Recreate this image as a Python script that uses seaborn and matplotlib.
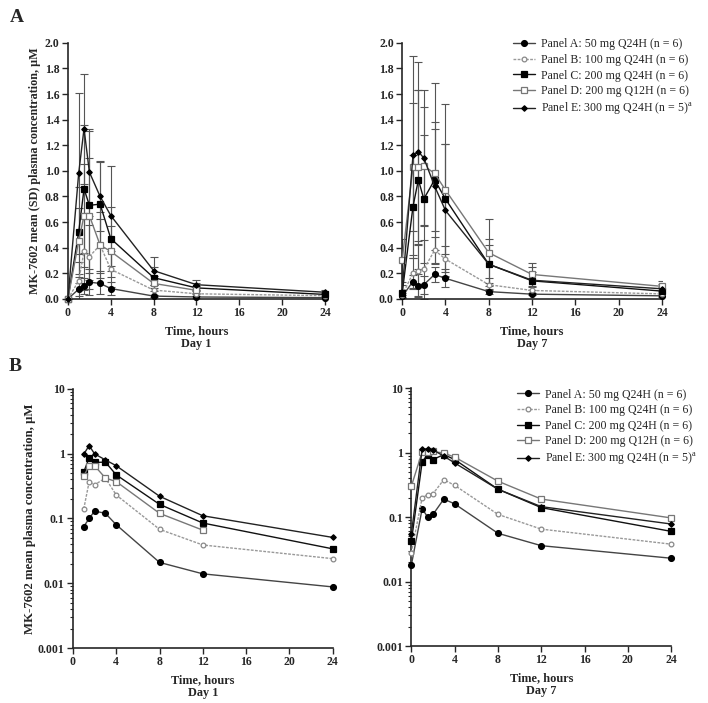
import numpy as np
import pandas as pd
import matplotlib
matplotlib.use("Agg")
import matplotlib.pyplot as plt
import matplotlib.ticker as mticker
import seaborn as sns

# ====================== Data ======================
time_h = [0, 1, 1.5, 2, 3, 4, 8, 12, 24]

# Day 1 means (uM)
d1_a = [0.0, 0.075, 0.10, 0.13, 0.12, 0.08, 0.021, 0.014, 0.0088]
d1_b = [0.0, 0.14, 0.37, 0.33, 0.42, 0.23, 0.068, 0.039, 0.024]
d1_c = [0.0, 0.52, 0.86, 0.73, 0.74, 0.47, 0.165, 0.085, 0.034]
d1_d = [0.0, 0.45, 0.65, 0.65, 0.42, 0.37, 0.12, 0.066, np.nan]
d1_e = [0.0, 0.98, 1.33, 0.99, 0.80, 0.65, 0.22, 0.11, 0.051]
# Day 1 SD
d1_a_sd = [0.0, 0.05, 0.06, 0.10, 0.08, 0.05, 0.01, 0.006, 0.004]
d1_b_sd = [0.0, 0.15, 0.30, 0.25, 0.20, 0.14, 0.04, 0.02, 0.012]
d1_c_sd = [0.0, 0.35, 0.50, 0.58, 0.34, 0.25, 0.08, 0.04, 0.015]
d1_d_sd = [0.0, 0.26, 0.40, 0.45, 0.26, 0.20, 0.06, 0.03, np.nan]
d1_e_sd = [0.0, 0.63, 0.43, 0.34, 0.27, 0.39, 0.11, 0.04, 0.02]

# Day 7 means (uM)
d7_a = [0.018, 0.135, 0.10, 0.11, 0.19, 0.16, 0.056, 0.036, 0.023]
d7_b = [0.028, 0.20, 0.22, 0.23, 0.38, 0.31, 0.11, 0.065, 0.038]
d7_c = [0.042, 0.72, 0.93, 0.78, 0.93, 0.78, 0.27, 0.14, 0.06]
d7_d = [0.30, 1.03, 1.03, 1.04, 0.98, 0.85, 0.36, 0.19, 0.097]
d7_e = [0.055, 1.12, 1.15, 1.10, 0.88, 0.69, 0.27, 0.145, 0.078]
# Day 7 SD
d7_a_sd = [0.01, 0.05, 0.09, 0.07, 0.06, 0.07, 0.02, 0.01, 0.01]
d7_b_sd = [0.02, 0.12, 0.20, 0.23, 0.10, 0.10, 0.05, 0.03, 0.02]
d7_c_sd = [0.03, 0.40, 0.70, 0.50, 0.40, 0.43, 0.15, 0.07, 0.03]
d7_d_sd = [0.17, 0.50, 0.60, 0.46, 0.71, 0.67, 0.26, 0.09, 0.045]
d7_e_sd = [0.05, 0.78, 0.70, 0.53, 0.50, 0.52, 0.20, 0.10, 0.04]

labels = ["Panel A: 50 mg Q24H (n = 6)",
          "Panel B: 100 mg Q24H (n = 6)",
          "Panel C: 200 mg Q24H (n = 6)",
          "Panel D: 200 mg Q12H (n = 6)",
          "Panel E: 300 mg Q24H (n = 5)$^{\\mathregular{a}}$"]

day1 = [(d1_a, d1_a_sd), (d1_b, d1_b_sd), (d1_c, d1_c_sd), (d1_d, d1_d_sd), (d1_e, d1_e_sd)]
day7 = [(d7_a, d7_a_sd), (d7_b, d7_b_sd), (d7_c, d7_c_sd), (d7_d, d7_d_sd), (d7_e, d7_e_sd)]

# marker / line styles per panel group
styles = [
    dict(marker='o', ms=4.2, mfc='black', mec='black', color='#444444', ls='-'),
    dict(marker='o', ms=3.4, mfc='white', mec='#888888', color='#999999', ls=(0, (2, 1))),
    dict(marker='s', ms=4.0, mfc='black', mec='black', color='#111111', ls='-'),
    dict(marker='s', ms=4.0, mfc='white', mec='#777777', color='#777777', ls='-'),
    dict(marker='D', ms=2.8, mfc='black', mec='black', color='#222222', ls='-'),
]

# ====================== Canvas ======================
sns.set_style("ticks")
plt.rcParams["font.family"] = ["Liberation Serif", "DejaVu Serif"]
plt.rcParams["mathtext.fontset"] = "custom"
plt.rcParams["mathtext.rm"] = "Liberation Serif"

fig = plt.figure(figsize=(7.08, 7.03), dpi=100)
ax_tl = fig.add_axes([0.096, 0.575, 0.363, 0.364])
ax_tr = fig.add_axes([0.568, 0.575, 0.367, 0.364])
ax_bl = fig.add_axes([0.103, 0.078, 0.367, 0.369])
ax_br = fig.add_axes([0.581, 0.081, 0.367, 0.367])


def draw_panel(ax, data, log, show_err, legend_anchor=None):
    for (vals, sds), st, lab in zip(data, styles, labels):
        df = pd.DataFrame({"t": time_h, "v": vals, "sd": sds}).dropna()
        if log:
            df = df[df["v"] > 0]
        if show_err:
            ax.errorbar(df["t"], df["v"], yerr=df["sd"], fmt='none', ecolor='#555555',
                        elinewidth=0.8, capsize=3, capthick=0.8, zorder=2)
        sns.lineplot(x=df["t"], y=df["v"], ax=ax, color=st['color'], linestyle=st['ls'],
                     linewidth=1.0, marker=st['marker'], markersize=st['ms'],
                     markerfacecolor=st['mfc'], markeredgecolor=st['mec'],
                     markeredgewidth=0.9, label=lab, clip_on=False, zorder=3)
    sns.despine(ax=ax)
    ax.set_xlim(0, 24)
    ax.set_xticks(np.arange(0, 25, 4))
    if log:
        ax.set_yscale('log')
        ax.set_ylim(0.001, 10)
        ax.set_yticks([0.001, 0.01, 0.1, 1, 10])
        ax.yaxis.set_major_formatter(mticker.FuncFormatter(lambda v, p: f"{v:g}"))
        ax.yaxis.set_minor_locator(mticker.LogLocator(base=10, subs=np.arange(2, 10)))
        ax.yaxis.set_minor_formatter(mticker.NullFormatter())
    else:
        ax.set_ylim(0, 2.0)
        ax.set_yticks(np.arange(0, 2.01, 0.2))
        ax.yaxis.set_major_formatter(mticker.FormatStrFormatter('%.1f'))
    ax.tick_params(axis='both', which='major', length=4, width=1, direction='out', pad=2)
    ax.tick_params(axis='y', which='minor', length=2, width=0.8)
    for lab in ax.get_xticklabels() + ax.get_yticklabels():
        lab.set_fontsize(8.5)
        lab.set_fontweight('bold')
    for sp in ax.spines.values():
        sp.set_linewidth(1.2)
    if legend_anchor is not None:
        ax.legend(loc='upper right', bbox_to_anchor=legend_anchor, frameon=False,
                  fontsize=8.6, handlelength=1.8, handletextpad=0.5,
                  labelspacing=0.3, borderpad=0.2)
    else:
        ax.get_legend().remove()


draw_panel(ax_tl, day1, log=False, show_err=True)
draw_panel(ax_tr, day7, log=False, show_err=True, legend_anchor=(1.15, 1.05))
draw_panel(ax_bl, day1, log=True, show_err=False)
draw_panel(ax_br, day7, log=True, show_err=False, legend_anchor=(1.13, 1.03))

for ax, day in [(ax_tl, 1), (ax_tr, 7), (ax_bl, 1), (ax_br, 7)]:
    ax.set_xlabel(f"Time, hours\nDay {day}", fontsize=8.8, fontweight='bold', linespacing=1.1,
                  labelpad=4)

ax_tl.set_ylabel("MK-7602 mean (SD) plasma concentration, \u00b5M", fontsize=8.7,
                 fontweight='bold', labelpad=3)
ax_tr.set_ylabel("")
ax_bl.set_ylabel("MK-7602 mean plasma concentration, \u00b5M", fontsize=9.2,
                 fontweight='bold', labelpad=1)
ax_br.set_ylabel("")

fig.text(0.014, 0.975, "A", fontsize=14, fontweight='bold', va='center')
fig.text(0.012, 0.478, "B", fontsize=14, fontweight='bold', va='center')

fig.savefig("out.png", dpi=100)
